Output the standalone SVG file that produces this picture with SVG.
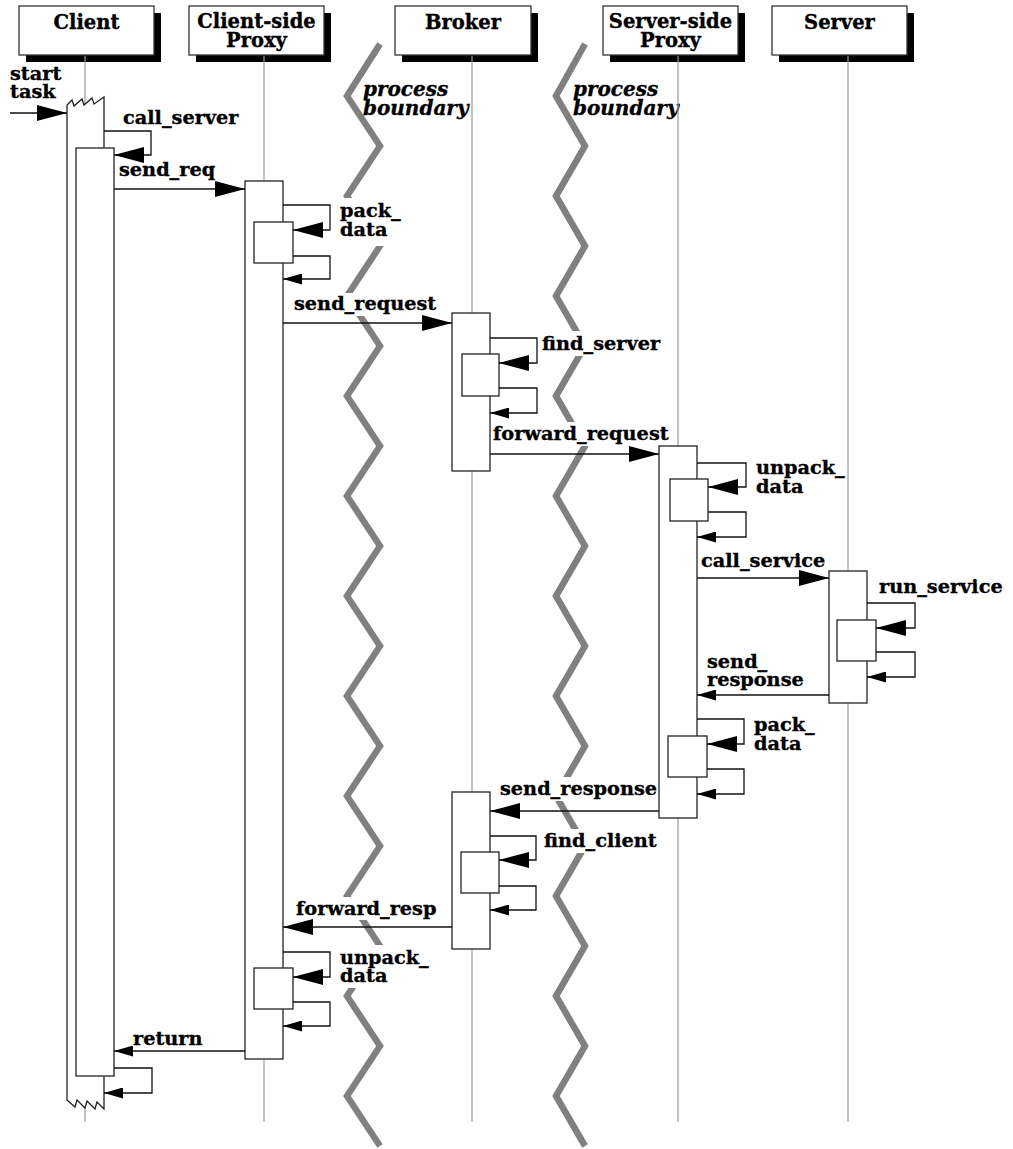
<svg xmlns="http://www.w3.org/2000/svg" width="1013" height="1149" viewBox="0 0 1013 1149">
<style>
.hdr{fill:#fff;stroke:#333;stroke-width:1.3}
.shd{fill:#000}
.ht{font-family:"DejaVu Serif","Liberation Serif",serif;font-weight:bold;font-size:19.5px;text-anchor:middle;fill:#000;stroke:#000;stroke-width:0.35}
.lb{font-family:"DejaVu Serif","Liberation Serif",serif;font-weight:bold;font-size:19.3px;fill:#000;stroke:#000;stroke-width:0.35}
.it{font-family:"DejaVu Serif","Liberation Serif",serif;font-weight:bold;font-style:italic;font-size:20px;fill:#000;stroke:#000;stroke-width:0.35}
.life{stroke:#999;stroke-width:1.2;fill:none}
.act{fill:#fff;stroke:#222;stroke-width:1.3}
.msg{fill:none;stroke:#111;stroke-width:1.3}
.call{marker-end:url(#big)}
.ret{marker-end:url(#small)}
.zz{fill:none;stroke:#808080;stroke-width:6.5;stroke-linejoin:miter}
.bg{fill:#fff}
</style>
<defs>
<marker id="big" markerUnits="userSpaceOnUse" markerWidth="30" markerHeight="16" viewBox="0 0 30 16" refX="30" refY="8" orient="auto"><path d="M0,0 L30,8 L0,16 Z" fill="#000"/></marker>
<marker id="small" markerUnits="userSpaceOnUse" markerWidth="19" markerHeight="11" viewBox="0 0 19 11" refX="19" refY="5.5" orient="auto"><path d="M0,0 L19,5.5 L0,11 Z" fill="#000"/></marker>
</defs>
<rect width="1013" height="1149" fill="#fff"/>

<g id="boundaries">
<path class="zz" d="M380,44 L347,96 L380,146 L347,196 L380,246 L347,296 L380,346 L347,396 L380,446 L347,496 L380,546 L347,596 L380,646 L347,696 L380,746 L347,796 L380,846 L347,896 L380,946 L347,996 L380,1046 L347,1096 L380,1146"/>
<path class="zz" d="M585,44 L556,96 L585,146 L556,196 L585,246 L556,296 L585,346 L556,396 L585,446 L556,496 L585,546 L556,596 L585,646 L556,696 L585,746 L556,796 L585,846 L556,896 L585,946 L556,996 L585,1046 L556,1096 L585,1146"/>
<text class="it" x="363" y="96">process</text>
<text class="it" x="363" y="115">boundary</text>
<text class="it" x="573" y="96">process</text>
<text class="it" x="573" y="115">boundary</text>
</g>

<g id="client">
<rect class="shd" x="26" y="13" width="135" height="49"/>
<rect class="hdr" x="19" y="6" width="135" height="49"/>
<text class="ht" x="86.5" y="29">Client</text>
<line class="life" x1="85" y1="56" x2="85" y2="1122"/>
<path class="act" d="M67,105 L72,100 L74,106 L82,99 L84,105 L92,98 L94,104 L104,97 L104,1109 L97,1102 L95,1109 L87,1101 L85,1108 L77,1100 L75,1107 L67,1100 Z"/>
<rect class="act" x="76" y="148" width="38" height="928"/>
</g>

<g id="client-side-proxy">
<rect class="shd" x="196" y="13" width="135" height="49"/>
<rect class="hdr" x="189" y="6" width="135" height="49"/>
<text class="ht" x="256.5" y="28">Client-side</text>
<text class="ht" x="256.5" y="47">Proxy</text>
<line class="life" x1="264" y1="56" x2="264" y2="1122"/>
<rect class="act" x="245" y="181" width="38" height="878"/>
<rect class="act" x="254" y="222" width="39" height="41"/>
<rect class="act" x="254" y="968" width="39" height="41"/>
</g>

<g id="broker">
<rect class="shd" x="402" y="13" width="136" height="49"/>
<rect class="hdr" x="395" y="6" width="136" height="49"/>
<text class="ht" x="463" y="29">Broker</text>
<line class="life" x1="472" y1="56" x2="472" y2="1122"/>
<rect class="act" x="452" y="313" width="38" height="158"/>
<rect class="act" x="462" y="354" width="37" height="42"/>
<rect class="act" x="452" y="792" width="38" height="157"/>
<rect class="act" x="461" y="852" width="38" height="41"/>
</g>

<g id="server-side-proxy">
<rect class="shd" x="610" y="13" width="135" height="49"/>
<rect class="hdr" x="603" y="6" width="135" height="49"/>
<text class="ht" x="670.5" y="28">Server-side</text>
<text class="ht" x="670.5" y="47">Proxy</text>
<line class="life" x1="678" y1="56" x2="678" y2="1122"/>
<rect class="act" x="659" y="446" width="38" height="372"/>
<rect class="act" x="670" y="479" width="38" height="42"/>
<rect class="act" x="668" y="736" width="39" height="41"/>
</g>

<g id="server">
<rect class="shd" x="779" y="13" width="135" height="49"/>
<rect class="hdr" x="772" y="6" width="135" height="49"/>
<text class="ht" x="839.5" y="29">Server</text>
<line class="life" x1="848" y1="56" x2="848" y2="1122"/>
<rect class="act" x="829" y="571" width="38" height="132"/>
<rect class="act" x="837" y="620" width="39" height="41"/>
</g>

<g id="connectors">
<rect class="bg" x="338" y="198" width="52" height="48"/>
<rect class="bg" x="340" y="293" width="60" height="23"/>
<rect class="bg" x="550" y="331" width="60" height="25"/>
<rect class="bg" x="548" y="422" width="62" height="24"/>
<rect class="bg" x="548" y="777" width="62" height="24"/>
<rect class="bg" x="548" y="829" width="62" height="24"/>
<rect class="bg" x="340" y="897" width="66" height="23"/>
<rect class="bg" x="338" y="945" width="70" height="43"/>

<text class="lb" x="10" y="80">start</text>
<text class="lb" x="10" y="98">task</text>
<line class="msg call" x1="10" y1="113" x2="67" y2="113"/>

<polyline class="msg call" points="104,131 151,131 151,155 114,155"/>
<text class="lb" x="123" y="124">call_server</text>

<line class="msg call" x1="114" y1="189" x2="245" y2="189"/>
<text class="lb" x="119" y="176">send_req</text>

<polyline class="msg call" points="283,205 330,205 330,230 293,230"/>
<polyline class="msg ret" points="293,256 330,256 330,279 283,279"/>
<text class="lb" x="340" y="217">pack_</text>
<text class="lb" x="340" y="236">data</text>

<line class="msg call" x1="283" y1="323" x2="452" y2="323"/>
<text class="lb" x="294" y="310">send_request</text>

<polyline class="msg call" points="490,338 537,338 537,363 499,363"/>
<polyline class="msg ret" points="499,388 537,388 537,413 490,413"/>
<text class="lb" x="542" y="350">find_server</text>

<line class="msg call" x1="490" y1="454" x2="659" y2="454"/>
<text class="lb" x="493" y="440">forward_request</text>

<polyline class="msg call" points="697,463 746,463 746,487 708,487"/>
<polyline class="msg ret" points="708,512 746,512 746,537 697,537"/>
<text class="lb" x="756" y="474">unpack_</text>
<text class="lb" x="756" y="493">data</text>

<line class="msg call" x1="697" y1="578" x2="829" y2="578"/>
<text class="lb" x="701" y="567">call_service</text>

<polyline class="msg call" points="867,603 915,603 915,628 876,628"/>
<polyline class="msg ret" points="876,652 915,652 915,677 867,677"/>
<text class="lb" x="879" y="593">run_service</text>

<line class="msg ret" x1="829" y1="695" x2="697" y2="695"/>
<text class="lb" x="707" y="668">send_</text>
<text class="lb" x="707" y="686">response</text>

<polyline class="msg call" points="697,719 744,719 744,744 707,744"/>
<polyline class="msg ret" points="707,769 744,769 744,794 697,794"/>
<text class="lb" x="754" y="731">pack_</text>
<text class="lb" x="754" y="750">data</text>

<line class="msg call" x1="659" y1="811" x2="490" y2="811"/>
<text class="lb" x="500" y="795">send_response</text>

<polyline class="msg call" points="490,836 536,836 536,860 499,860"/>
<polyline class="msg ret" points="499,886 536,886 536,910 490,910"/>
<text class="lb" x="544" y="847">find_client</text>

<line class="msg call" x1="452" y1="927" x2="283" y2="927"/>
<text class="lb" x="296" y="915">forward_resp</text>

<polyline class="msg call" points="283,952 330,952 330,977 293,977"/>
<polyline class="msg ret" points="293,1002 330,1002 330,1026 283,1026"/>
<text class="lb" x="340" y="964">unpack_</text>
<text class="lb" x="340" y="982">data</text>

<line class="msg ret" x1="245" y1="1051" x2="114" y2="1051"/>
<text class="lb" x="133" y="1045">return</text>

<polyline class="msg ret" points="114,1068 152,1068 152,1093 104,1093"/>
</g>
</svg>
